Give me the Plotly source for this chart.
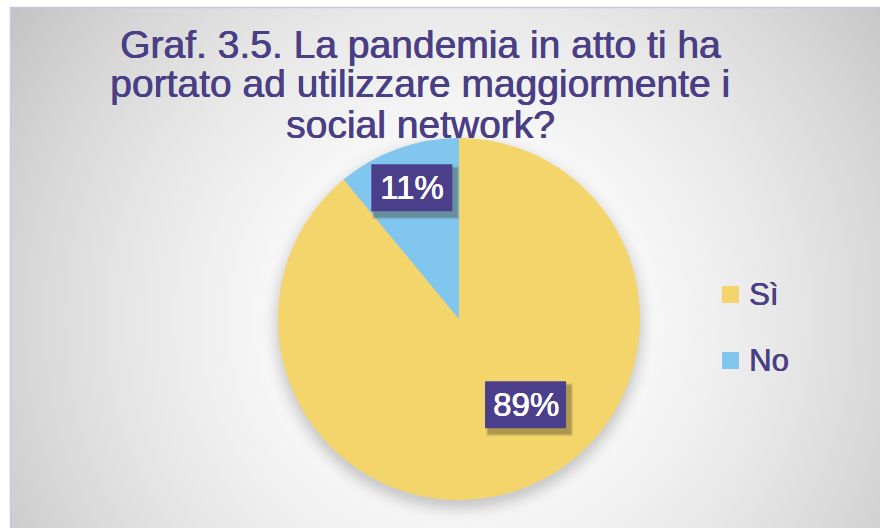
import base64
import math
import plotly.graph_objects as go

# --- data -------------------------------------------------------------
categories = ["Sì", "No"]
values = [89, 11]
slice_colors = ["#F3D56C", "#80C6EE"]
title_lines = [
    "Graf. 3.5. La pandemia in atto ti ha",
    "portato ad utilizzare maggiormente i",
    "social network?",
]

# --- layout constants (pixels) ----------------------------------------
W, H = 880, 528
CX, CY, R = 459, 319, 181          # pie centre / radius
PURPLE = "#4A3F85"
BOX = "#4B3F8C"
FONT = "Liberation Sans, Arial, sans-serif"
BOX_W, BOX_H = 81, 47

# label placement: radial fraction and angular nudge (degrees) per slice
label_r = [0.60, 0.77]
label_turn = [-18, 0]


def px(x):
    return x / W


def py(y):
    return 1 - y / H


def heavier(color):
    # a hairline text shadow gives the regular face a medium weight
    return f"0.6px 0 0 {color}, 0 0.3px 0 {color}"


# background panel: soft radial gradient, pie shadow, thin border
svg = f"""<svg xmlns='http://www.w3.org/2000/svg' width='{W}' height='{H}'>
<defs>
<radialGradient id='g' gradientUnits='userSpaceOnUse' cx='{CX}' cy='{CY}' r='560'>
<stop offset='0' stop-color='#ffffff'/>
<stop offset='0.35' stop-color='#f6f6f6'/>
<stop offset='0.57' stop-color='#e8e8e8'/>
<stop offset='0.80' stop-color='#d5d5d5'/>
<stop offset='1' stop-color='#c0c0c0'/>
</radialGradient>
<filter id='b' x='-20%' y='-20%' width='140%' height='140%'><feGaussianBlur stdDeviation='7'/></filter>
</defs>
<rect width='{W}' height='{H}' fill='#ffffff'/>
<rect x='10' y='7' width='{W-10}' height='{H-7}' fill='url(#g)'/>
<circle cx='{CX}' cy='{CY+7}' r='{R+2}' fill='#000' fill-opacity='0.20' filter='url(#b)'/>
<line x1='10.5' y1='7' x2='10.5' y2='{H}' stroke='#c9c5ee' stroke-width='1.5'/>
<line x1='10' y1='7.5' x2='{W}' y2='7.5' stroke='#c9c5ee' stroke-width='1.5'/>
</svg>"""
bg_src = "data:image/svg+xml;base64," + base64.b64encode(svg.encode()).decode()

fig = go.Figure(
    go.Pie(
        labels=categories,
        values=values,
        marker=dict(colors=slice_colors, line=dict(width=0)),
        sort=False,
        direction="clockwise",
        rotation=0,
        textinfo="none",
        hoverinfo="label+percent",
        showlegend=False,
        domain=dict(x=[px(CX - R), px(CX + R)], y=[py(CY + R), py(CY - R)]),
    )
)

annotations = []
shapes = []
# title, one annotation per line for tight line spacing
for i, line in enumerate(title_lines):
    annotations.append(dict(
        x=px(420), y=py(44 + 40 * i), xref="paper", yref="paper",
        text=line, showarrow=False, xanchor="center", yanchor="middle",
        font=dict(family=FONT, size=39, color=PURPLE, shadow=heavier(PURPLE)),
    ))

# percentage labels in boxes, positioned from the slice angles
total = sum(values)
start = 0.0
for i, v in enumerate(values):
    frac = v / total
    mid = (start + frac / 2) * 360 + label_turn[i]
    start += frac
    rr = R * label_r[i]
    lx = CX + rr * math.sin(math.radians(mid))
    ly = CY - rr * math.cos(math.radians(mid))
    pct = f"{round(frac * 100)}%"
    # soft drop shadow behind the box
    for k, a in enumerate([0.10, 0.14, 0.18]):
        g = 3 - k
        shapes.append(dict(
            type="rect", xref="paper", yref="paper", layer="above",
            x0=px(lx - BOX_W / 2 + 4 - g), x1=px(lx + BOX_W / 2 + 4 + g),
            y0=py(ly + BOX_H / 2 + 5 + g), y1=py(ly - BOX_H / 2 + 5 - g),
            fillcolor=f"rgba(60,50,20,{a})", line=dict(width=0),
        ))
    shapes.append(dict(
        type="rect", xref="paper", yref="paper", layer="above",
        x0=px(lx - BOX_W / 2), x1=px(lx + BOX_W / 2),
        y0=py(ly + BOX_H / 2), y1=py(ly - BOX_H / 2),
        fillcolor=BOX, line=dict(width=0),
    ))
    annotations.append(dict(
        x=px(lx), y=py(ly), xref="paper", yref="paper", text=pct,
        showarrow=False, xanchor="center", yanchor="middle",
        font=dict(family=FONT, size=33, color="white", shadow=heavier("white")),
    ))

# legend
for i, (cat, col) in enumerate(zip(categories, slice_colors)):
    yc = 294.5 + 66 * i
    shapes.append(dict(
        type="rect", xref="paper", yref="paper",
        x0=px(722), x1=px(739), y0=py(yc + 8.5), y1=py(yc - 8.5),
        fillcolor=col, line=dict(width=0),
    ))
    annotations.append(dict(
        x=px(747), y=py(yc), xref="paper", yref="paper", text=cat,
        showarrow=False, xanchor="left", yanchor="middle",
        font=dict(family=FONT, size=31, color=PURPLE, shadow=heavier(PURPLE)),
    ))

fig.update_layout(
    width=W, height=H,
    margin=dict(l=0, r=0, t=0, b=0),
    paper_bgcolor="white",
    plot_bgcolor="rgba(0,0,0,0)",
    images=[dict(source=bg_src, xref="paper", yref="paper", x=0, y=1,
                 sizex=1, sizey=1, sizing="stretch", layer="below",
                 xanchor="left", yanchor="top")],
    annotations=annotations,
    shapes=shapes,
)

fig.write_html("out.html")
